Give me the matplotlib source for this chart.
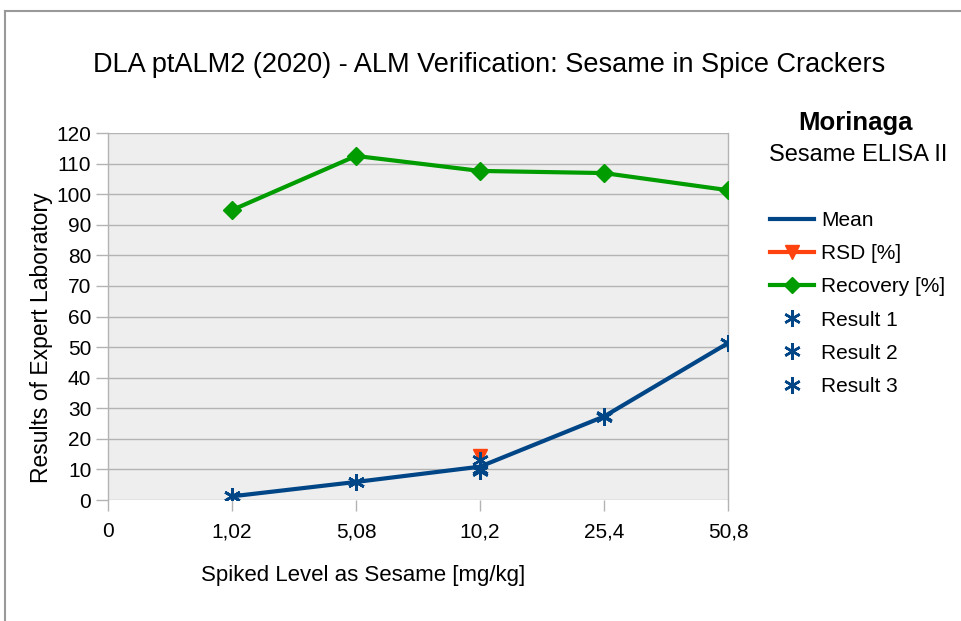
import matplotlib
matplotlib.use("Agg")
import matplotlib.pyplot as plt
from matplotlib.lines import Line2D
import numpy as np

plt.rcParams['font.family'] = ['Liberation Sans', 'DejaVu Sans']

# categorical x axis (position 0 is the empty "0" slot)
levels = ["0", "1,02", "5,08", "10,2", "25,4", "50,8"]
mean_vals = [np.nan, 1.2, 5.9, 10.9, 27.3, 51.3]
rsd_vals = [np.nan, np.nan, np.nan, 14.4, np.nan, np.nan]
recovery_vals = [np.nan, 94.8, 112.5, 107.6, 106.9, 101.3]
result1 = [np.nan, 1.2, 5.9, 13.0, 27.3, 51.3]
result2 = [np.nan, 1.2, 5.8, 10.2, 27.2, 51.2]
result3 = [np.nan, 1.2, 5.9, 9.6, 27.4, 51.4]

BLUE = '#004586'
ORANGE = '#ff420e'
GREEN = '#009c00'
GRID = '#b3b3b3'

fig = plt.figure(figsize=(9.62, 6.21), dpi=100)
ax = fig.add_axes([108 / 962, 1 - 500 / 621, 620 / 962, 367 / 621])
ax.set_facecolor('#eeeeee')

x = np.arange(len(levels))
ast = (6, 2, 0)

ax.plot(x, mean_vals, color=BLUE, lw=3.0, zorder=3)
ax.plot(x, rsd_vals, color=ORANGE, lw=3.0, marker='v', ms=10, zorder=2)
ax.plot(x, recovery_vals, color=GREEN, lw=3.0, marker='D', ms=9, zorder=3)
for r in (result1, result2, result3):
    ax.plot(x, r, ls='none', marker=ast, ms=12, mew=1.8, color=BLUE, zorder=4)

ax.set_xlim(0, 5)
ax.set_ylim(0, 120)
ax.set_yticks(np.arange(0, 121, 10))
ax.set_xticks(x)
ax.set_xticklabels(levels)
ax.grid(axis='y', color=GRID, lw=1.0)
ax.set_axisbelow(True)
for side in ('top', 'bottom'):
    ax.spines[side].set_visible(False)
for side in ('left', 'right'):
    ax.spines[side].set_color(GRID)
    ax.spines[side].set_linewidth(1.0)
ax.tick_params(axis='x', length=8, color=GRID, width=1.0, labelsize=15, pad=8)
ax.tick_params(axis='y', length=9, color=GRID, width=1.0, labelsize=15, pad=3)

fig.text(489 / 962, 1 - 65 / 621, "DLA ptALM2 (2020) - ALM Verification: Sesame in Spice Crackers",
         ha='center', va='center', fontsize=19.5)
fig.text(363 / 962, 1 - 575 / 621, "Spiked Level as Sesame [mg/kg]",
         ha='center', va='center', fontsize=16)
fig.text(42 / 962, 1 - 338 / 621, "Results of Expert Laboratory",
         ha='center', va='center', rotation=90, fontsize=16.5)
fig.text(856 / 962, 1 - 123 / 621, "Morinaga", ha='center', va='center',
         fontsize=18.5, fontweight='bold')
fig.text(858 / 962, 1 - 155 / 621, "Sesame ELISA II", ha='center', va='center',
         fontsize=17)

handles = [
    Line2D([], [], color=BLUE, lw=3.0),
    Line2D([], [], color=ORANGE, lw=3.0, marker='v', ms=10),
    Line2D([], [], color=GREEN, lw=3.0, marker='D', ms=8),
    Line2D([], [], ls='none', marker=ast, ms=12, mew=1.8, color=BLUE),
    Line2D([], [], ls='none', marker=ast, ms=12, mew=1.8, color=BLUE),
    Line2D([], [], ls='none', marker=ast, ms=12, mew=1.8, color=BLUE),
]
labels = ["Mean", "RSD [%]", "Recovery [%]", "Result 1", "Result 2", "Result 3"]
fig.legend(handles, labels, loc='upper left', bbox_to_anchor=(770 / 962, 1 - 211 / 621),
           frameon=False, fontsize=15, handlelength=2.1, handletextpad=0.35,
           labelspacing=0.68, borderaxespad=0, borderpad=0)

# outer frame lines (top and left)
fig.add_artist(Line2D([5 / 962, 1], [1 - 11 / 621, 1 - 11 / 621], color='#999999', lw=1.5))
fig.add_artist(Line2D([5 / 962, 5 / 962], [0, 1 - 11 / 621], color='#999999', lw=1.5))

fig.savefig("out.png", dpi=100)
